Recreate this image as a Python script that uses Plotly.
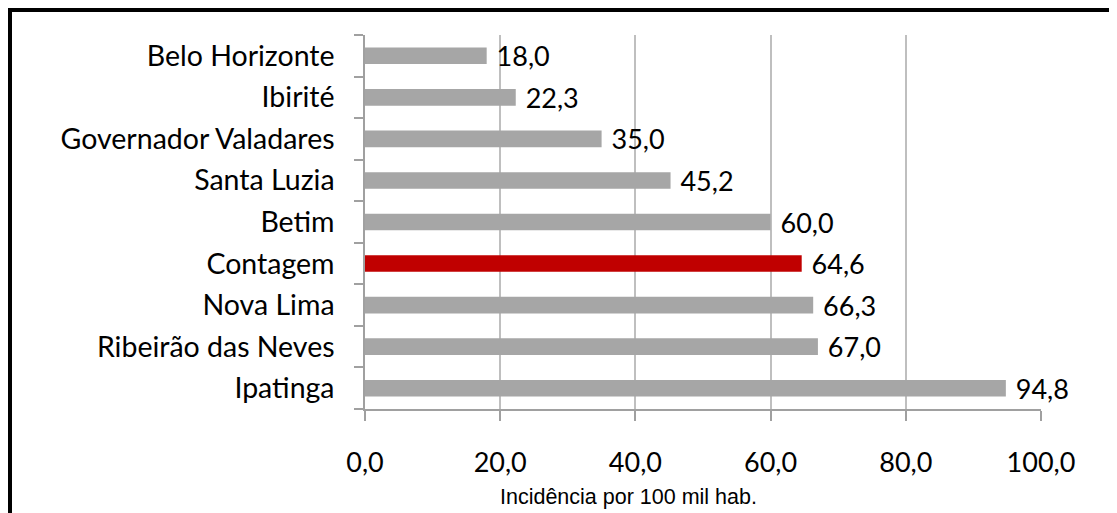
import plotly.graph_objects as go

cities = ["Belo Horizonte", "Ibirité", "Governador Valadares", "Santa Luzia", "Betim",
          "Contagem", "Nova Lima", "Ribeirão das Neves", "Ipatinga"]
values = [18.0, 22.3, 35.0, 45.2, 60.0, 64.6, 66.3, 67.0, 94.8]
highlight = "Contagem"
x_ticks = [0, 20, 40, 60, 80, 100]
x_title = "Incidência por 100 mil hab."

GREY = "#a6a6a6"
RED = "#c00000"
colors = [RED if c == highlight else GREY for c in cities]

FONT = "Lato"

# page body has an 8px margin; compensate so the plot area lands at
# screen x 365..1041, y 35..409
OFF = 8
PL, PR, PT, PB = 365, 1041, 35, 409
W, H = 1117, 513
PW, PH = PR - PL, PB - PT


def px(xs):
    return (xs - PL) / PW


def py(ys):
    return (PB - ys) / PH


fig = go.Figure(go.Bar(
    x=values, y=cities, orientation="h",
    marker=dict(color=colors, line=dict(width=0)),
    width=0.4,
    text=values, texttemplate="\u00a0%{x:.1f}", textposition="outside",
    textfont=dict(family=FONT, size=27, color="#000000"),
    constraintext="none",
    cliponaxis=False,
))

fig.update_layout(
    width=W, height=H,
    margin=dict(l=PL - OFF, r=W + OFF - PR, t=PT - OFF, b=H + OFF - PB),
    paper_bgcolor="white", plot_bgcolor="white",
    separators=",.",
    showlegend=False,
    xaxis=dict(
        range=[0, 100], tickvals=x_ticks, tickformat=".1f",
        showgrid=True, gridcolor="#bfbfbf", gridwidth=1.5,
        showline=True, linecolor="#a0a0a0", linewidth=1.5,
        ticks="outside", ticklen=10, tickcolor="#a0a0a0", tickwidth=1.5,
        tickfont=dict(family=FONT, size=27, color="#000000"),
        ticklabelstandoff=19,
        zeroline=False,
    ),
    yaxis=dict(
        categoryorder="array", categoryarray=cities[::-1],
        showline=True, linecolor="#a0a0a0", linewidth=1.5,
        ticks="outside", ticklen=9, tickcolor="#a0a0a0", tickwidth=1.5,
        tickson="boundaries",
        tickfont=dict(family=FONT, size=28.5, color="#000000"),
        ticklabelstandoff=23,
        showgrid=False,
    ),
    annotations=[dict(
        text=x_title, xref="paper", yref="paper",
        x=px(628), y=py(497),
        xanchor="center", yanchor="middle", showarrow=False,
        font=dict(family="Liberation Sans", size=21.5, color="#000000"),
    )],
    shapes=[
        dict(type="line", xref="paper", yref="paper",
             x0=px(8), x1=px(1130), y0=py(10), y1=py(10),
             line=dict(color="black", width=4)),
        dict(type="line", xref="paper", yref="paper",
             x0=px(10), x1=px(10), y0=py(8), y1=py(530),
             line=dict(color="black", width=4)),
    ],
)

fig.write_html("out.html")
